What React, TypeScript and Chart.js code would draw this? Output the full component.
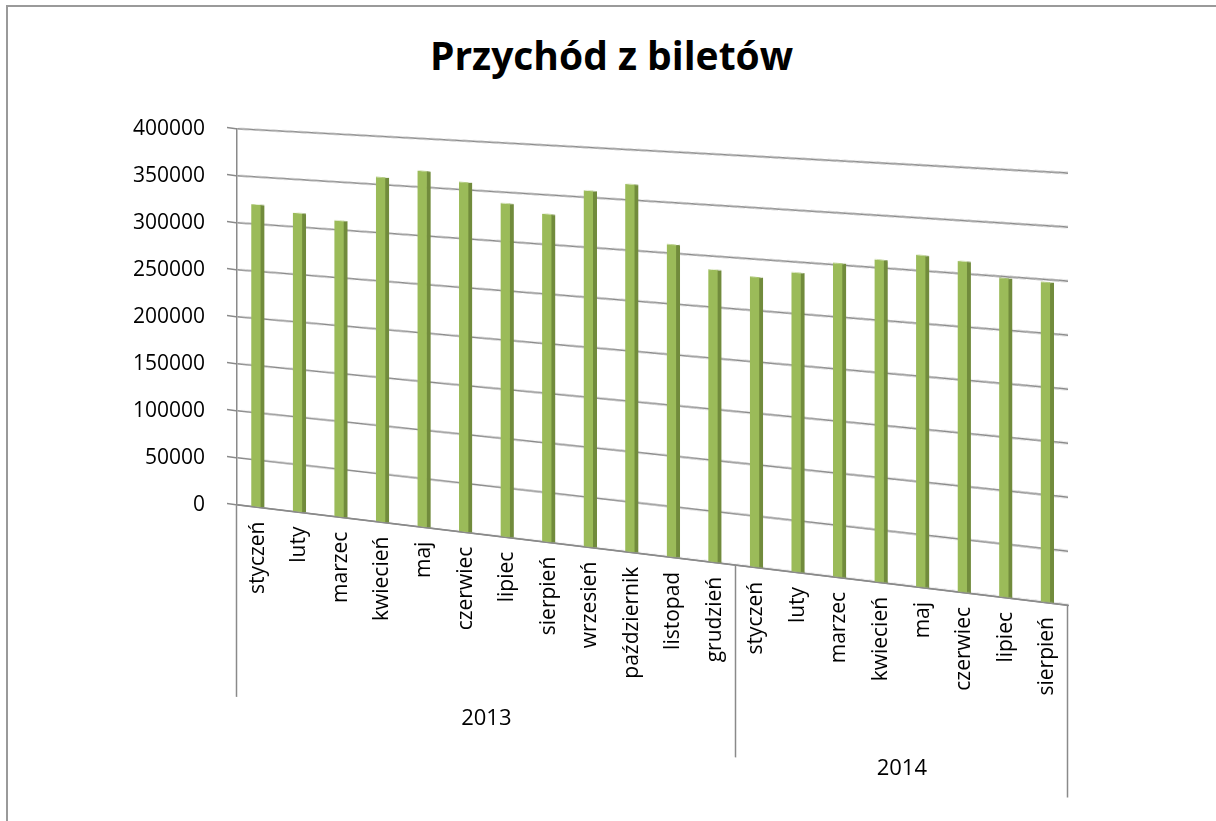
import React, { useEffect, useRef } from 'react';
import { Chart, registerables } from 'chart.js';

Chart.register(...registerables);

// ---- data ----
const chartTitle = 'Przychód z biletów';
const months2013 = ['styczeń', 'luty', 'marzec', 'kwiecień', 'maj', 'czerwiec', 'lipiec', 'sierpień', 'wrzesień', 'październik', 'listopad', 'grudzień'];
const months2014 = ['styczeń', 'luty', 'marzec', 'kwiecień', 'maj', 'czerwiec', 'lipiec', 'sierpień'];
const revenue2013 = [321000, 315000, 310000, 358000, 367000, 358000, 339000, 331000, 357000, 366000, 309000, 287000];
const revenue2014 = [283000, 290000, 302000, 308000, 315000, 312000, 299000, 298000];
const years = ['2013', '2014'];
const yMin = 0;
const yMax = 400000;
const yStep = 50000;

// ---- style ----
const FONT = '"Open Sans", sans-serif';
const GRID = '#8a8a8a';
const BAR_FRONT = '#9bbb59';
const BAR_SIDE = '#718b3c';
// view effect imitating the 3D perspective of the original
const SHEAR = 0.121; // slope of the floor
const GROW = 0.00018; // growth of the vertical scale towards the viewer (right side)

const view3dPlugin = {
  id: 'view3d',
  beforeDraw(chart: any) {
    const { ctx, chartArea } = chart;
    ctx.save();
    ctx.transform(1, SHEAR, 0, 1, 0, -SHEAR * chartArea.left);
    // keep glyphs upright: only their anchor follows the tilt
    const base = CanvasRenderingContext2D.prototype.fillText;
    ctx.fillText = function (text: string, x: number, y: number, maxWidth?: number) {
      const m = this.getTransform();
      const p = new DOMPoint(x, y).matrixTransform(m);
      const lin = new DOMMatrix([1, -SHEAR, 0, 1, 0, 0]).multiply(new DOMMatrix([m.a, m.b, m.c, m.d, 0, 0]));
      this.save();
      this.setTransform(lin.a, lin.b, lin.c, lin.d, p.x, p.y);
      if (maxWidth === undefined) base.call(this, text, 0, 0);
      else base.call(this, text, 0, 0, maxWidth);
      this.restore();
    };
  },
  afterDatasetsDraw(chart: any) {
    const ctx = chart.ctx;
    delete ctx.fillText;
    ctx.restore();
  },
  afterDraw(chart: any) {
    const { ctx, canvas, chartArea } = chart;
    const w = canvas.width;
    const h = canvas.height;
    const off = document.createElement('canvas');
    off.width = w;
    off.height = h;
    (off.getContext('2d') as CanvasRenderingContext2D).drawImage(canvas, 0, 0);
    ctx.save();
    ctx.setTransform(1, 0, 0, 1, 0, 0);
    const xStart = Math.floor(chartArea.left);
    const xEnd = Math.min(w, Math.ceil(chartArea.right) + 3);
    for (let x = xStart; x < xEnd; x++) {
      const dx = Math.max(0, x + 0.5 - chartArea.left);
      const s = 1 + GROW * dx;
      const ya = Math.round(chartArea.bottom + SHEAR * dx);
      ctx.clearRect(x, 0, 1, ya);
      ctx.drawImage(off, x, 0, 1, ya, x, ya - s * ya, 1, s * ya);
    }
    ctx.restore();
  },
};

export default function App() {
  const ref = useRef<HTMLCanvasElement | null>(null);

  useEffect(() => {
    const labels = [...months2013, ...months2014];
    const values = [...revenue2013, ...revenue2014];
    const groupSizes = [months2013.length, months2014.length];
    const boundaries: number[] = [0];
    groupSizes.forEach((n) => boundaries.push(boundaries[boundaries.length - 1] + n));
    const centers = groupSizes.map((n, i) => boundaries[i] + n / 2);

    const chart = new Chart(ref.current as HTMLCanvasElement, {
      type: 'bar',
      data: {
        labels,
        datasets: [
          {
            data: values,
            backgroundColor: BAR_FRONT,
            borderColor: BAR_SIDE,
            borderWidth: { left: 0, right: 4, top: 0, bottom: 0 },
            borderSkipped: false,
            barThickness: 13,
            xAxisID: 'x',
            yAxisID: 'y',
          },
        ],
      },
      options: {
        responsive: false,
        animation: false,
        devicePixelRatio: 1,
        layout: { padding: { left: 0, right: 148, top: 129, bottom: 0 } },
        plugins: {
          legend: { display: false },
          title: { display: false },
          tooltip: { enabled: false },
        },
        scales: {
          x: {
            type: 'category',
            position: 'bottom',
            offset: true,
            grid: {
              offset: true,
              drawOnChartArea: false,
              drawTicks: true,
              tickLength: 192,
              tickWidth: 1.5,
              tickColor: (c: any) =>
                c.type === 'scale' || boundaries.includes(c.index) ? GRID : 'rgba(0,0,0,0)',
            },
            border: { display: true, color: GRID, width: 1.5 },
            ticks: {
              autoSkip: false,
              minRotation: 90,
              maxRotation: 90,
              padding: -178,
              color: '#000',
              font: { family: FONT, size: 21 },
            },
            afterFit: (s: any) => {
              s.height = 150;
            },
          },
          x2: {
            type: 'linear',
            position: 'bottom',
            min: 0,
            max: labels.length,
            offset: false,
            grid: { display: false, drawTicks: false, drawOnChartArea: false },
            border: { display: false },
            afterBuildTicks: (s: any) => {
              s.ticks = centers.map((v) => ({ value: v }));
            },
            ticks: {
              autoSkip: false,
              maxRotation: 0,
              padding: 20,
              color: '#000',
              font: { family: FONT, size: 22 },
              callback: (v: any) => years[centers.indexOf(Number(v))] ?? '',
            },
            afterFit: (s: any) => {
              s.height = 166;
            },
          },
          y: {
            min: yMin,
            max: yMax,
            grid: { color: GRID, lineWidth: 1.5, tickLength: 10, drawTicks: true },
            border: { display: true, color: GRID, width: 1.5 },
            ticks: {
              stepSize: yStep,
              padding: 22,
              z: 1,
              color: '#000',
              font: { family: FONT, size: 21 },
              callback: (v: any) => String(v),
            },
            afterFit: (s: any) => {
              s.width = 237;
            },
          },
        },
      } as any,
      plugins: [view3dPlugin],
    });
    return () => chart.destroy();
  }, []);

  return (
    <div style={{ position: 'absolute', left: 0, top: 0, width: 1216, height: 821, overflow: 'hidden', background: '#fff' }}>
      <div
        style={{
          position: 'absolute',
          left: 6,
          top: 5,
          width: 1210,
          height: 816,
          boxSizing: 'border-box',
          borderTop: '2px solid #9a9a9a',
          borderLeft: '2px solid #9a9a9a',
        }}
      />
      <div
        style={{
          position: 'absolute',
          left: 0,
          top: 35,
          width: 1223,
          textAlign: 'center',
          fontFamily: FONT,
          fontWeight: 700,
          fontSize: 39,
          lineHeight: '39px',
          color: '#000',
          whiteSpace: 'nowrap',
        }}
      >
        {chartTitle}
      </div>
      <canvas ref={ref} width={1216} height={821} style={{ position: 'absolute', left: 0, top: 0, width: 1216, height: 821 }} />
    </div>
  );
}
